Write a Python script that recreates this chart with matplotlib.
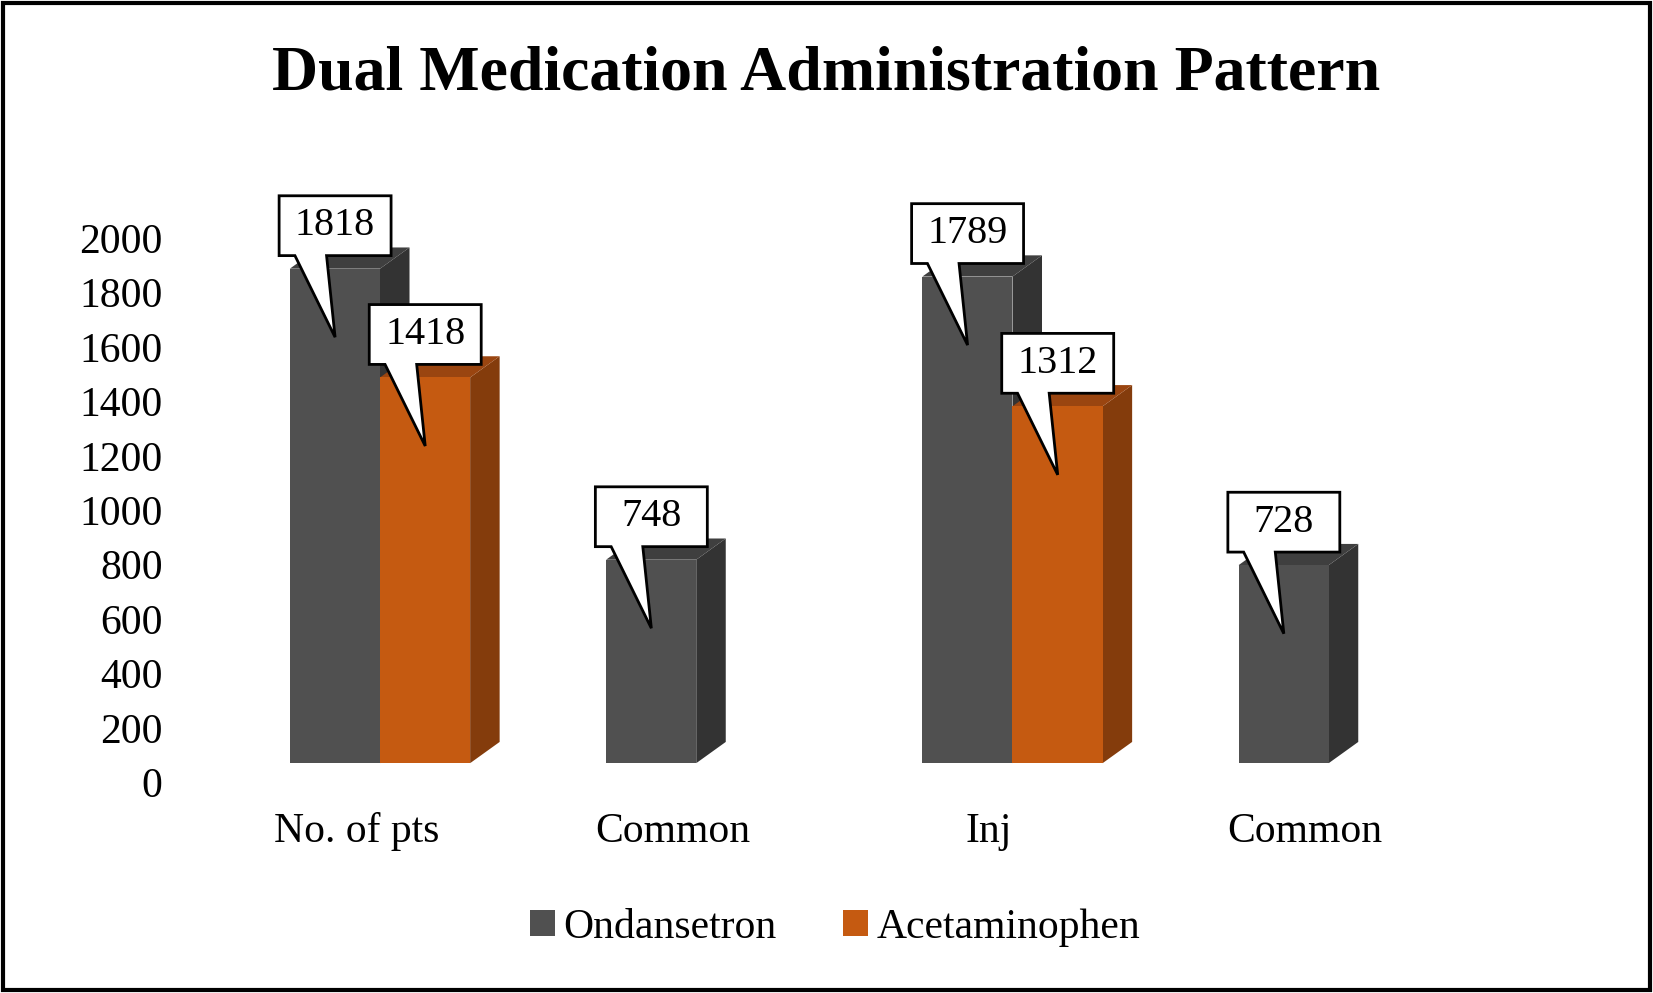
import matplotlib.pyplot as plt
from matplotlib.patches import Polygon, Patch, Rectangle

categories = ['No. of pts', 'Common', 'Inj', 'Common']
ondansetron = [1818, 748, 1789, 728]
acetaminophen = [1418, None, 1312, None]

plt.rcParams['font.family'] = ['Liberation Serif', 'DejaVu Serif']

fig = plt.figure(figsize=(16.53, 9.93), dpi=100)
ax = fig.add_axes([0.1084, 0.1849, 0.7844, 0.6026])
ax.set_xlim(-0.56, 3.54)
ax.set_ylim(-100, 2100)

W = 0.285      # bar front width
DX, DY = 0.0933, 78   # depth offset
LIFT = 70

styles = {
    'ond': ('#505050', '#333333', '#3f3f3f'),
    'ace': ('#C55A11', '#843C0C', '#9A4510'),
}


def bar3d(x, v, kind):
    front, side, top = styles[kind]
    y0, y1 = LIFT, v + LIFT
    ax.add_patch(Polygon([(x + W, y0), (x + W + DX, y0 + DY), (x + W + DX, y1 + DY), (x + W, y1)],
                         closed=True, fc=side, ec='none', zorder=2))
    ax.add_patch(Polygon([(x, y1), (x + DX, y1 + DY), (x + W + DX, y1 + DY), (x + W, y1)],
                         closed=True, fc=top, ec='none', zorder=2))
    ax.add_patch(Rectangle((x, y0), W, y1 - y0, fc=front, ec='none', zorder=3))


def callout(x, v):
    cx = x + 0.143
    cy = v + 228
    hw, hh = 0.177, 110
    tip = (cx, v - 182)
    pts = [(cx - hw, cy - hh), (cx - 0.127, cy - hh), tip, (cx - 0.027, cy - hh),
           (cx + hw, cy - hh), (cx + hw, cy + hh), (cx - hw, cy + hh)]
    ax.add_patch(Polygon(pts, closed=True, fc='white', ec='black', lw=2, zorder=5, clip_on=False))
    ax.text(cx, cy, str(v), ha='center', va='center', fontsize=29, zorder=6)


for i in range(len(categories)):
    left = i - 0.21
    bar3d(left, ondansetron[i], 'ond')
    if acetaminophen[i] is not None:
        bar3d(left + W, acetaminophen[i], 'ace')
for i in range(len(categories)):
    left = i - 0.21
    callout(left, ondansetron[i])
    if acetaminophen[i] is not None:
        callout(left + W, acetaminophen[i])

ax.set_yticks(range(0, 2001, 200))
ax.set_xticks(range(len(categories)))
ax.set_xticklabels(categories)
ax.tick_params(length=0, labelsize=30)
ax.tick_params(axis='x', pad=2)
ax.tick_params(axis='y', pad=12)
for s in ax.spines.values():
    s.set_visible(False)

fig.text(0.5, 0.925, 'Dual Medication Administration Pattern', ha='center', va='center',
         fontsize=46, fontweight='bold')

handles = [Patch(fc='#505050', label='Ondansetron'), Patch(fc='#C55A11', label='Acetaminophen')]
fig.legend(handles=handles, loc='center', bbox_to_anchor=(0.505, 0.066), ncol=2, frameon=False,
           fontsize=30, handlelength=0.6, handleheight=0.6, handletextpad=0.2, columnspacing=1.6)

fig.add_artist(Rectangle((0.002, 0.003), 0.996, 0.994, transform=fig.transFigure,
                         fill=False, ec='black', lw=3))

fig.savefig('out.png', dpi=100)
